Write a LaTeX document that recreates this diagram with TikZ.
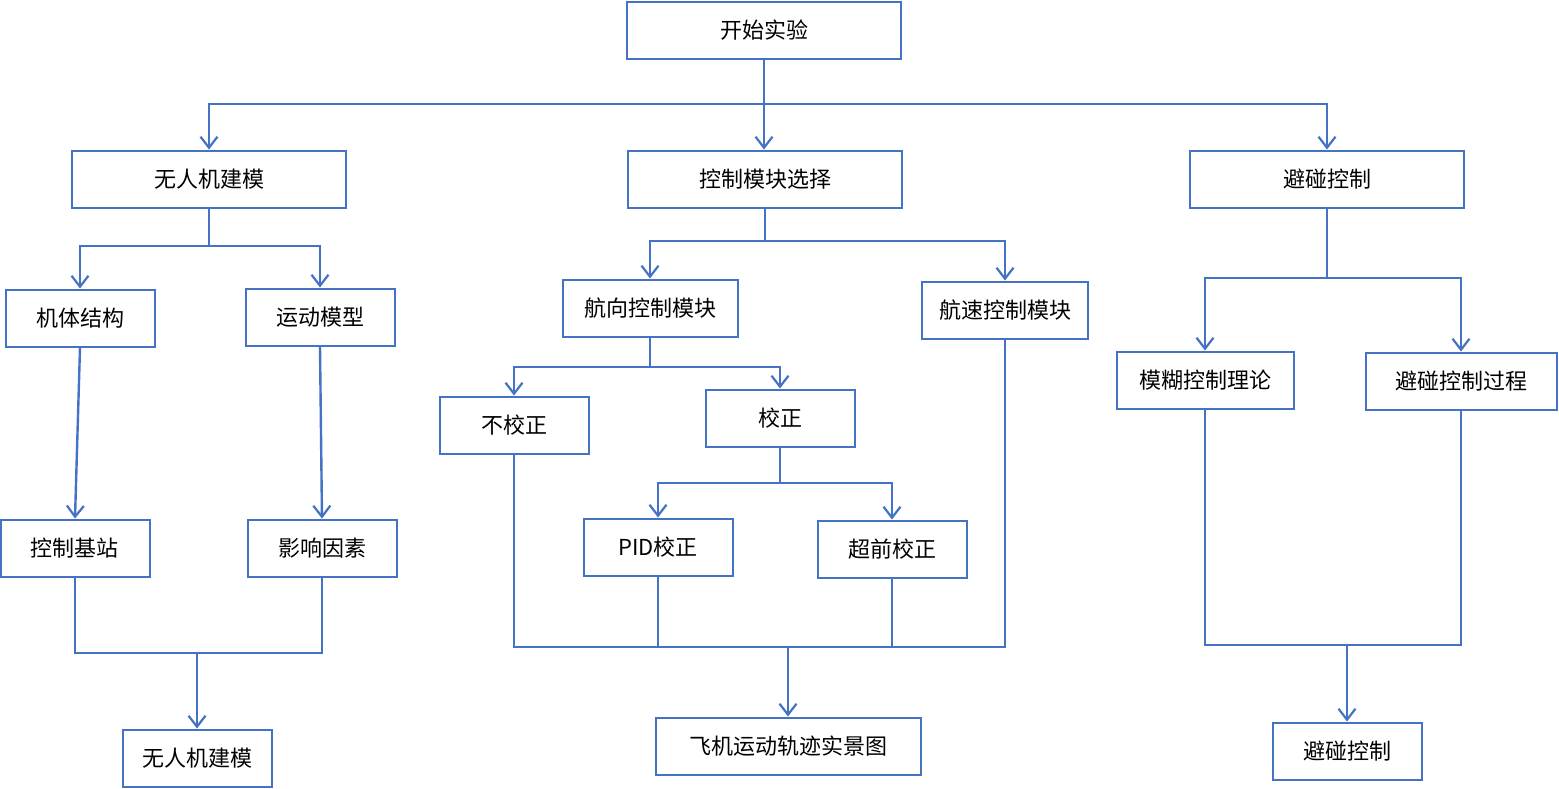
\documentclass[tikz,border=0pt]{standalone}
\usepackage{fontspec}
\setmainfont{Noto Sans CJK SC}
\usetikzlibrary{arrows.meta}
\definecolor{boxblue}{RGB}{68,114,196}
\begin{document}
\begin{tikzpicture}[x=0.5pt,y=-0.5pt,
    font=\fontsize{11}{13}\selectfont,
    box/.style={draw=boxblue,line width=1pt,inner sep=0pt,minimum height=28.5pt},
    smallbox/.style={box,minimum width=74.5pt},
    widebox/.style={box,minimum width=137pt},
    line/.style={draw=boxblue,line width=1.2pt},
    arr/.style={line,-{Straight Barb[length=5.5pt,width=8.5pt,line width=1.1pt]}}]
    \useasboundingbox (0,0) rectangle (1559,788);

    % top
    \node[widebox] (start) at (764,30) {开始实验};
    \node[widebox] (uav) at (209,179) {无人机建模};
    \node[widebox] (ctrl) at (765,179) {控制模块选择};
    \node[widebox] (avoid) at (1327,179) {避碰控制};

    % left branch
    \node[smallbox] (body) at (80,318) {机体结构};
    \node[smallbox] (motion) at (320,317) {运动模型};
    \node[smallbox] (base) at (75,548) {控制基站};
    \node[smallbox] (infl) at (322,548) {影响因素};
    \node[smallbox] (uavend) at (197,758) {无人机建模};

    % middle branch
    \node[box,minimum width=87.5pt] (heading) at (650,308) {航向控制模块};
    \node[box,minimum width=83pt] (speed) at (1005,310) {航速控制模块};
    \node[smallbox] (nocorr) at (514,425) {不校正};
    \node[smallbox] (corr) at (780,418) {校正};
    \node[smallbox] (pid) at (658,547) {PID校正};
    \node[smallbox] (lead) at (892,549) {超前校正};
    \node[box,minimum width=132.5pt] (track) at (788,746) {飞机运动轨迹实景图};

    % right branch
    \node[box,minimum width=88.5pt] (fuzzy) at (1205,380) {模糊控制理论};
    \node[box,minimum width=95.5pt] (proc) at (1461,381) {避碰控制过程};
    \node[smallbox] (avoidend) at (1347,751) {避碰控制};

    % junctions
    \coordinate (j0) at (764,104);
    \coordinate (j1) at (209,246);
    \coordinate (j2) at (765,241);
    \coordinate (j3) at (650,367);
    \coordinate (j4) at (780,483);
    \coordinate (j5) at (1327,278);
    \coordinate (m1) at (197,653);
    \coordinate (m2) at (788,647);
    \coordinate (m3) at (1347,645);

    \draw[line] (start.south) -- (j0);
    \draw[arr] (j0) -| (uav.north);
    \draw[arr] (j0) -- (j0 |- ctrl.north);
    \draw[arr] (j0) -| (avoid.north);

    \draw[line] (uav.south) -- (j1);
    \draw[arr] (j1) -| (body.north);
    \draw[arr] (j1) -| (motion.north);
    \draw[arr] (body.south) -- (base.north);
    \draw[arr] (motion.south) -- (infl.north);
    \draw[line] (base.south) |- (m1);
    \draw[line] (infl.south) |- (m1);
    \draw[arr] (m1) -- (uavend.north);

    \draw[line] (ctrl.south) -- (j2);
    \draw[arr] (j2) -| (heading.north);
    \draw[arr] (j2) -| (speed.north);
    \draw[line] (heading.south) -- (j3);
    \draw[arr] (j3) -| (nocorr.north);
    \draw[arr] (j3) -| (corr.north);
    \draw[line] (corr.south) -- (j4);
    \draw[arr] (j4) -| (pid.north);
    \draw[arr] (j4) -| (lead.north);
    \draw[line] (nocorr.south) |- (m2);
    \draw[line] (pid.south) |- (m2);
    \draw[line] (lead.south) |- (m2);
    \draw[line] (speed.south) |- (m2);
    \draw[arr] (m2) -- (track.north);

    \draw[line] (avoid.south) -- (j5);
    \draw[arr] (j5) -| (fuzzy.north);
    \draw[arr] (j5) -| (proc.north);
    \draw[line] (fuzzy.south) |- (m3);
    \draw[line] (proc.south) |- (m3);
    \draw[arr] (m3) -- (avoidend.north);
\end{tikzpicture}
\end{document}
